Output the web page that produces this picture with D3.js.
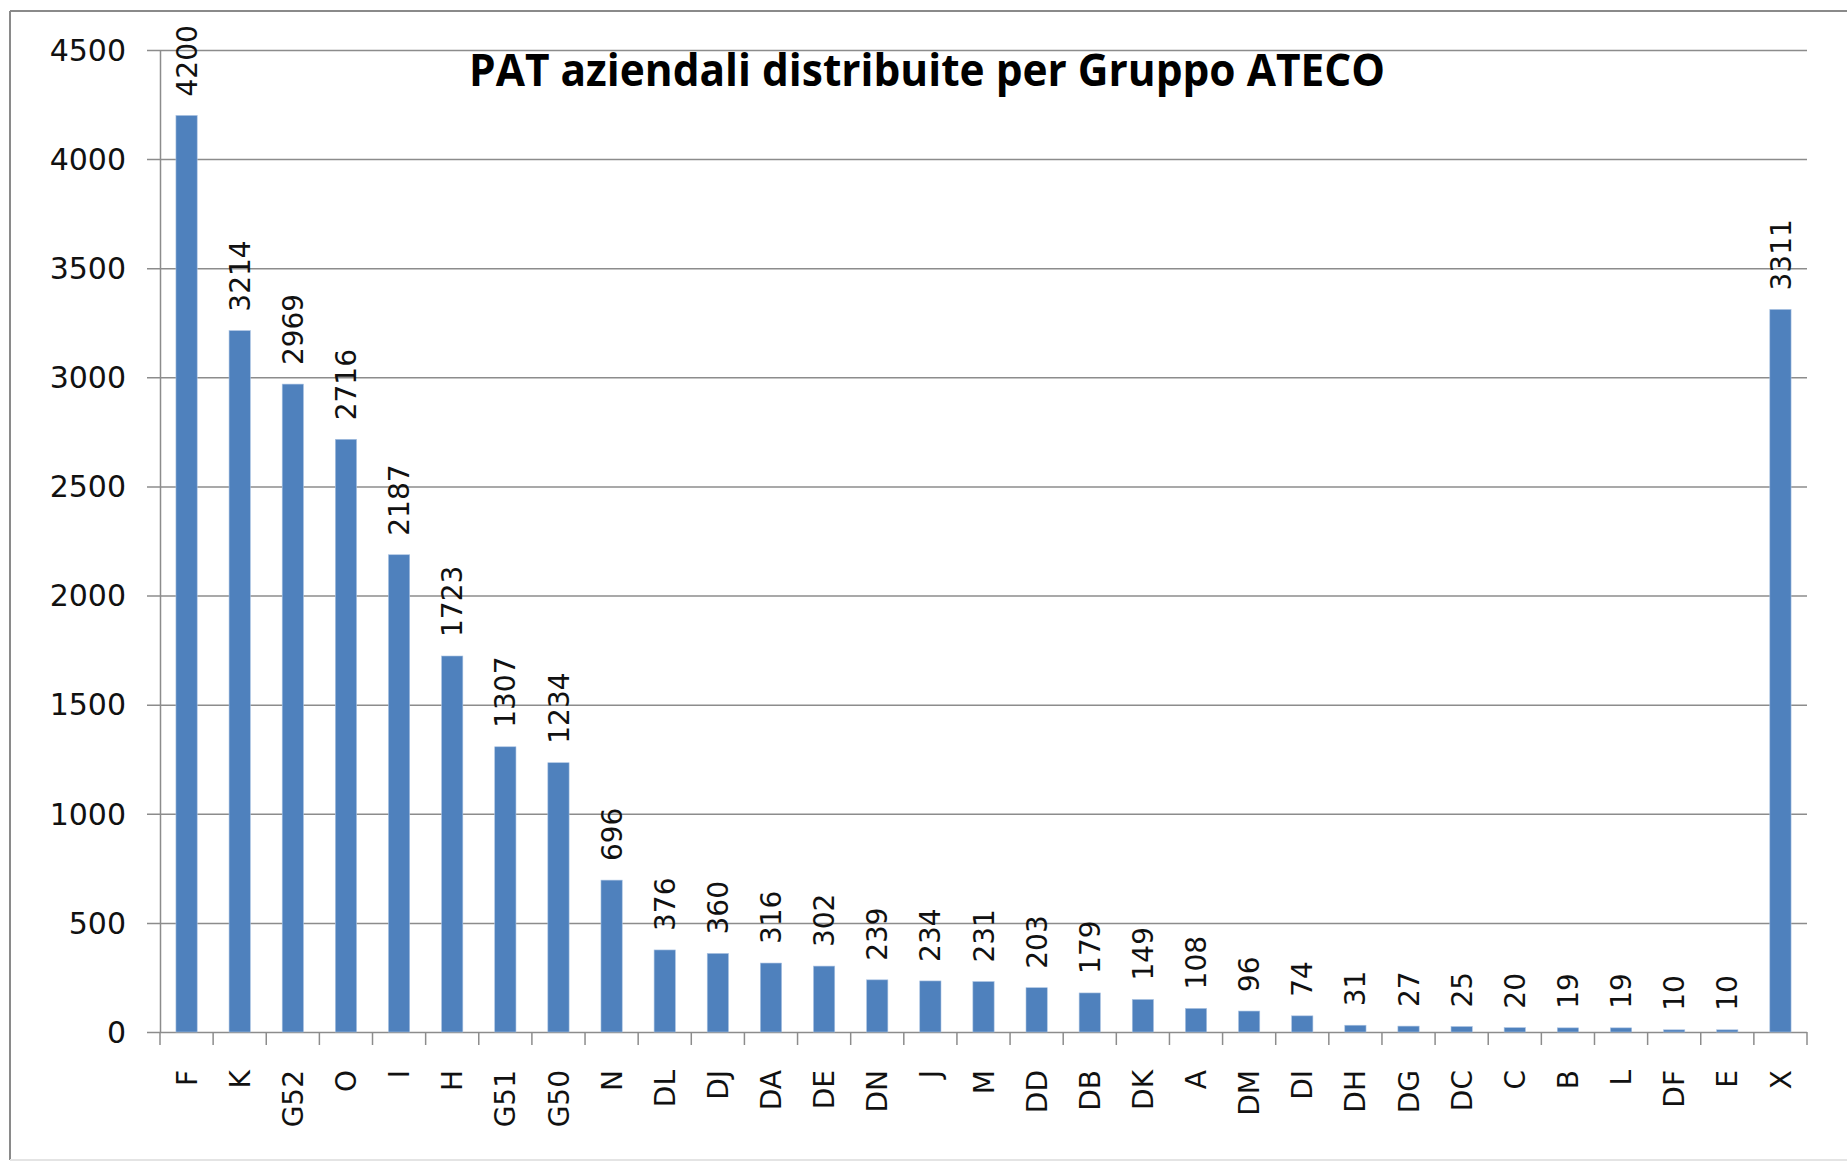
<!DOCTYPE html>
<html>
<head>
<meta charset="utf-8">
<script src="https://cdn.jsdelivr.net/npm/d3@7"></script>
<style>
  body { margin: 0; background: #fff; }
  text { font-family: "DejaVu Sans", sans-serif; fill: #111; }
</style>
</head>
<body>
<svg id="chart"></svg>
<script>
"use strict";

const title = "PAT aziendali distribuite per Gruppo ATECO";
const categories = ["F", "K", "G52", "O", "I", "H", "G51", "G50", "N", "DL", "DJ", "DA", "DE", "DN", "J", "M",
  "DD", "DB", "DK", "A", "DM", "DI", "DH", "DG", "DC", "C", "B", "L", "DF", "E", "X"];
const values = [4200, 3214, 2969, 2716, 2187, 1723, 1307, 1234, 696, 376, 360, 316, 302, 239, 234, 231,
  203, 179, 149, 108, 96, 74, 31, 27, 25, 20, 19, 19, 10, 10, 3311];
const yTicks = [0, 500, 1000, 1500, 2000, 2500, 3000, 3500, 4000, 4500];

const W = 1847, H = 1162;
const plotL = 160, plotR = 1807, plotT = 50, plotB = 1032;

const chart = d3.select('#chart')
  .attr('width', W)
  .attr('height', H);

// frame
chart.append('line').attr('x1', 10).attr('y1', 11).attr('x2', 10).attr('y2', 1160)
  .attr('stroke', '#8a8a8a').attr('stroke-width', 2);
chart.append('line').attr('x1', 10).attr('y1', 11).attr('x2', W).attr('y2', 11)
  .attr('stroke', '#8a8a8a').attr('stroke-width', 2);
chart.append('line').attr('x1', 10).attr('y1', 1160).attr('x2', W).attr('y2', 1160)
  .attr('stroke', '#e4e4e4').attr('stroke-width', 2);

const x = d3.scaleBand()
  .domain(categories)
  .range([plotL, plotR])
  .paddingInner(0.6)
  .paddingOuter(0.3);

const y = d3.scaleLinear()
  .domain([0, 4500])
  .range([plotB, plotT]);

const data = categories.map((c, i) => ({ cat: c, val: values[i] }));

// gridlines + y tick labels
chart.selectAll('.grid').data(yTicks).enter()
  .append('line')
  .attr('class', 'grid')
  .attr('x1', plotL - 13)
  .attr('x2', plotR)
  .attr('y1', d => y(d) + 0.5)
  .attr('y2', d => y(d) + 0.5)
  .attr('stroke', '#8c8c8c')
  .attr('stroke-width', 1.5);

chart.selectAll('.ylab').data(yTicks).enter()
  .append('text')
  .attr('class', 'ylab')
  .attr('x', 126)
  .attr('y', d => y(d))
  .attr('dy', '0.36em')
  .attr('text-anchor', 'end')
  .style('font-size', '30px')
  .text(d => d);

// y axis line
chart.append('line')
  .attr('x1', plotL + 0.5).attr('x2', plotL + 0.5)
  .attr('y1', plotT).attr('y2', plotB)
  .attr('stroke', '#8c8c8c').attr('stroke-width', 1.5);

// x category ticks
const step = x.step();
chart.selectAll('.xtick').data(d3.range(categories.length + 1)).enter()
  .append('line')
  .attr('class', 'xtick')
  .attr('x1', i => plotL + i * step)
  .attr('x2', i => plotL + i * step)
  .attr('y1', plotB)
  .attr('y2', plotB + 13)
  .attr('stroke', '#8c8c8c')
  .attr('stroke-width', 1.5);

// bars
chart.selectAll('.bar').data(data).enter()
  .append('rect')
  .attr('class', 'bar')
  .attr('x', d => x(d.cat))
  .attr('y', d => y(d.val))
  .attr('width', x.bandwidth())
  .attr('height', d => plotB - y(d.val))
  .attr('fill', '#4f81bd')
  .attr('stroke', '#a9c2e2')
  .attr('stroke-width', 0.6);

// value labels
chart.selectAll('.vlab').data(data).enter()
  .append('text')
  .attr('class', 'vlab')
  .attr('transform', d => `translate(${x(d.cat) + x.bandwidth() / 2},${y(d.val) - 19}) rotate(-90)`)
  .attr('dy', '0.36em')
  .attr('text-anchor', 'start')
  .style('font-size', '28px')
  .text(d => d.val);

// category labels
chart.selectAll('.xlab').data(data).enter()
  .append('text')
  .attr('class', 'xlab')
  .attr('transform', d => `translate(${x(d.cat) + x.bandwidth() / 2},1070) rotate(-90)`)
  .attr('dy', '0.36em')
  .attr('text-anchor', 'end')
  .style('font-size', '28px')
  .text(d => d.cat);

// title
chart.append('text')
  .attr('x', 469)
  .attr('y', 86)
  .attr('textLength', 916)
  .attr('lengthAdjust', 'spacingAndGlyphs')
  .style('font-family', '"Open Sans", sans-serif')
  .style('font-weight', 'bold')
  .style('font-size', '44px')
  .style('fill', '#000')
  .text(title);
</script>
</body>
</html>
